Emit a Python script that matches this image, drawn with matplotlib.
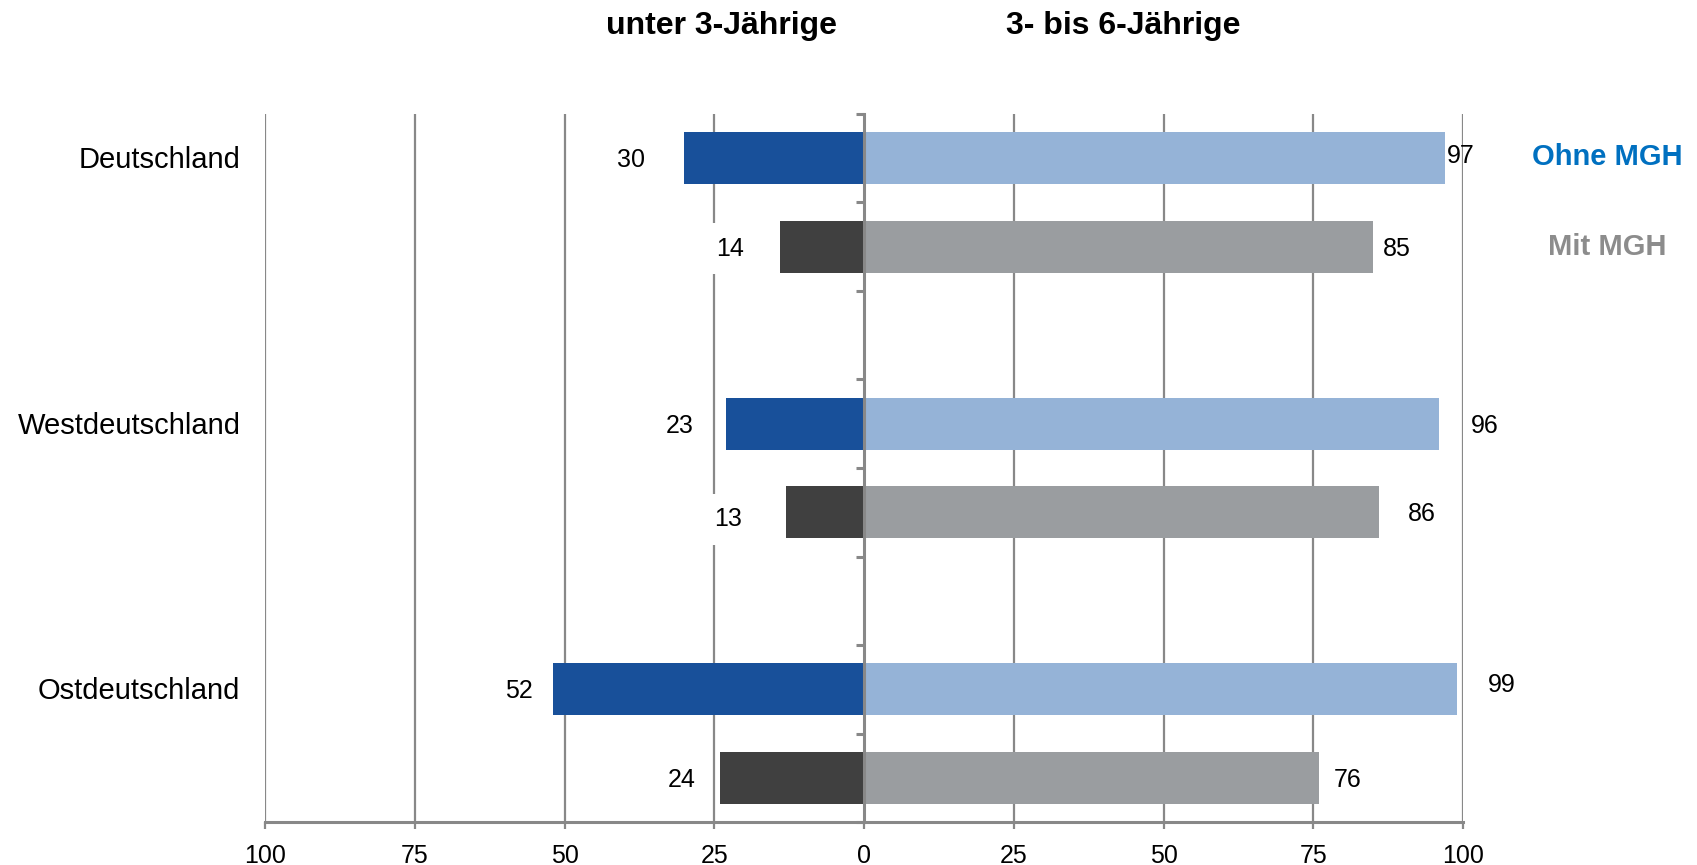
import matplotlib
matplotlib.use("Agg")
import matplotlib.pyplot as plt
from matplotlib.transforms import offset_copy

plt.rcParams['font.family'] = ['Liberation Sans', 'DejaVu Sans']

# ---- data -------------------------------------------------------------
categories = ["Deutschland", "Westdeutschland", "Ostdeutschland"]
under3_ohne = [30, 23, 52]      # unter 3-Jährige, ohne Migrationshintergrund
under3_mit = [14, 13, 24]       # unter 3-Jährige, mit Migrationshintergrund
age3to6_ohne = [97, 96, 99]     # 3- bis 6-Jährige, ohne Migrationshintergrund
age3to6_mit = [85, 86, 76]      # 3- bis 6-Jährige, mit Migrationshintergrund
xtick_values = [-100, -75, -50, -25, 0, 25, 50, 75, 100]
group_titles = ["unter 3-Jährige", "3- bis 6-Jährige"]
legend_labels = ["Ohne MGH", "Mit MGH"]

# ---- styling ----------------------------------------------------------
C_DARK_BLUE = "#18509A"
C_LIGHT_BLUE = "#95B3D7"
C_DARK_GREY = "#404040"
C_LIGHT_GREY = "#9A9DA0"
C_GRID = "#888888"
C_LEG_BLUE = "#0070C0"
C_LEG_GREY = "#8C8C8C"

# label nudges in pixels (dx, dy; dy positive = downwards)
left_nudge = [[(-53, 2), (-50, 2)], [(-47, 2), (-58, 7)], [(-34, 2), (-39, 2)]]
right_nudge = [[(16, -2), (24, 2)], [(46, 2), (43, 2)], [(45, -4), (28, 2)]]

fig = plt.figure(figsize=(16.97, 8.65), dpi=100)
ax = fig.add_axes([265 / 1697, 1 - 822 / 865, 1198 / 1697, 708 / 865])

n_slots = 3 * len(categories) - 1
bar_h = 0.585

ohne_y = [3 * i + 0.5 for i in range(len(categories))]
mit_y = [3 * i + 1.5 for i in range(len(categories))]

ax.barh(ohne_y, [-v for v in under3_ohne], height=bar_h, color=C_DARK_BLUE, zorder=3)
ax.barh(mit_y, [-v for v in under3_mit], height=bar_h, color=C_DARK_GREY, zorder=3)
ax.barh(ohne_y, age3to6_ohne, height=bar_h, color=C_LIGHT_BLUE, zorder=3)
ax.barh(mit_y, age3to6_mit, height=bar_h, color=C_LIGHT_GREY, zorder=3)

ax.set_xlim(-100, 100)
ax.set_ylim(n_slots, 0)

# vertical grid lines (the zero line is the centre spine)
for xv in xtick_values:
    if xv != 0:
        ax.axvline(xv, color=C_GRID, lw=1.6, zorder=1)

# centre axis with small ticks between bars
ax.spines['left'].set_position(('data', 0))
ax.spines['left'].set_color(C_GRID)
ax.spines['left'].set_linewidth(2.2)
ax.spines['left'].set_zorder(4)
ax.set_yticks(range(n_slots + 1))
ax.set_yticklabels([])
ax.tick_params(axis='y', direction='out', length=6, width=2.2, color=C_GRID)

for s in ['top', 'right']:
    ax.spines[s].set_visible(False)
ax.spines['bottom'].set_color(C_GRID)
ax.spines['bottom'].set_linewidth(2.2)

ax.set_xticks(xtick_values)
ax.set_xticklabels([str(abs(v)) for v in xtick_values], fontsize=18)
ax.tick_params(axis='x', direction='out', length=5, width=1.6, color=C_GRID, pad=11)

# value labels
for i in range(len(categories)):
    pairs = [(under3_ohne[i], ohne_y[i], left_nudge[i][0]),
             (under3_mit[i], mit_y[i], left_nudge[i][1])]
    for v, y, (dx, dy) in pairs:
        tr = offset_copy(ax.transData, fig=fig, x=dx, y=-dy, units='dots')
        ax.text(-v, y, str(v), transform=tr, ha='center', va='center', fontsize=18,
                zorder=5, bbox=dict(boxstyle='square,pad=0.55', fc='white', ec='none'))
    pairs = [(age3to6_ohne[i], ohne_y[i], right_nudge[i][0]),
             (age3to6_mit[i], mit_y[i], right_nudge[i][1])]
    for v, y, (dx, dy) in pairs:
        tr = offset_copy(ax.transData, fig=fig, x=dx, y=-dy, units='dots')
        ax.text(v, y, str(v), transform=tr, ha='center', va='center', fontsize=18, zorder=5)

# category labels
cat_tr = offset_copy(ax.get_yaxis_transform(), fig=fig, x=0, y=-2, units='dots')
for i, cat in enumerate(categories):
    ax.text(-0.0205, ohne_y[i], cat, transform=cat_tr,
            ha='right', va='center', fontsize=21)

# group titles
fig.text(722 / 1697, 1 - 26 / 865, group_titles[0], ha='center', va='center',
         fontsize=23, fontweight='bold')
fig.text(1123 / 1697, 1 - 26 / 865, group_titles[1], ha='center', va='center',
         fontsize=23, fontweight='bold')

# legend-style series labels
fig.text(1607 / 1697, 1 - 157 / 865, legend_labels[0], ha='center', va='center',
         fontsize=21, fontweight='bold', color=C_LEG_BLUE)
fig.text(1607 / 1697, 1 - 247 / 865, legend_labels[1], ha='center', va='center',
         fontsize=21, fontweight='bold', color=C_LEG_GREY)

fig.savefig("out.png", dpi=100, facecolor='white')
